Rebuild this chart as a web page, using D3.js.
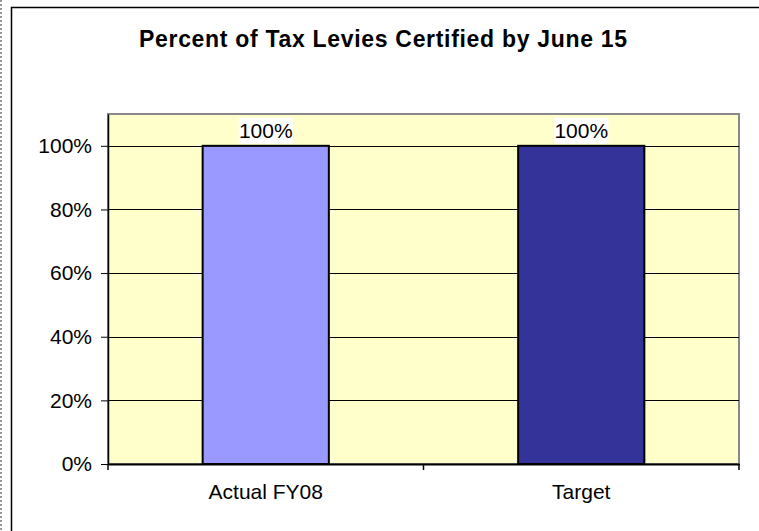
<!DOCTYPE html>
<html>
<head>
<meta charset="utf-8">
<script src="https://cdn.jsdelivr.net/npm/d3@7"></script>
<style>
  body { margin: 0; background: #fff; }
  svg { display: block; font-family: Arial, "Liberation Sans", sans-serif; }
</style>
</head>
<body>
<div id="chart"></div>
<script>
// chart values
var categories = ['Actual FY08', 'Target'];
var values = [1.0, 1.0];
var barColors = ['#9999FF', '#333399'];
var yTicks = [0, 0.2, 0.4, 0.6, 0.8, 1.0];
var titleText = 'Percent of Tax Levies Certified by June 15';

var W = 759, H = 531;
var margin = {top: 114, right: 20, bottom: 67, left: 108},
    width = 739 - margin.left,
    height = 464 - margin.top;

var svg = d3.select('#chart').append('svg')
    .attr('width', W)
    .attr('height', H);

// dotted page edge on the left
svg.append('line')
    .attr('x1', 1).attr('x2', 1)
    .attr('y1', 0).attr('y2', H)
    .attr('stroke', '#999')
    .attr('stroke-width', 2)
    .attr('stroke-dasharray', '2,2');

// chart area border (runs off the picture right and bottom)
svg.append('rect')
    .attr('x', 11.5).attr('y', 7.5)
    .attr('width', W + 10).attr('height', H + 10)
    .attr('fill', '#fff')
    .attr('stroke', '#000')
    .attr('stroke-width', 1.5);

svg.append('text')
    .attr('x', 383)
    .attr('y', 47)
    .attr('text-anchor', 'middle')
    .attr('textLength', 488)
    .attr('lengthAdjust', 'spacing')
    .style('font-size', '23px')
    .style('font-weight', 'bold')
    .text(titleText);

var g = svg.append('g')
    .attr('transform', 'translate(' + margin.left + ',' + margin.top + ')');

var x = d3.scaleBand()
    .domain(categories)
    .range([0, width])
    .paddingInner(0.6)
    .paddingOuter(0.3);

var y = d3.scaleLinear()
    .domain([0, 1.1])
    .range([height, 0]);

// plot background
g.append('rect')
    .attr('width', width)
    .attr('height', height)
    .attr('fill', '#FFFFCC')
    .attr('stroke', '#888')
    .attr('stroke-width', 2);

// gridlines
g.selectAll('.grid')
    .data(yTicks.slice(1))
    .enter().append('line')
    .attr('class', 'grid')
    .attr('x1', 0).attr('x2', width)
    .attr('y1', function(d) { return Math.round(y(d)) + 0.5; })
    .attr('y2', function(d) { return Math.round(y(d)) + 0.5; })
    .attr('stroke', '#000')
    .attr('stroke-width', 1);

// bars
g.selectAll('.bar')
    .data(values)
    .enter().append('rect')
    .attr('class', 'bar')
    .attr('x', function(d, i) { return x(categories[i]); })
    .attr('y', function(d) { return y(d); })
    .attr('width', x.bandwidth())
    .attr('height', function(d) { return height - y(d); })
    .attr('fill', function(d, i) { return barColors[i]; })
    .attr('stroke', '#000')
    .attr('stroke-width', 2);

// data labels with white boxes
var lab = g.selectAll('.lab')
    .data(values)
    .enter().append('g')
    .attr('class', 'lab')
    .attr('transform', function(d, i) {
        return 'translate(' + (x(categories[i]) + x.bandwidth() / 2) + ',' + (y(d) - 15) + ')';
    });
lab.append('rect')
    .attr('x', -27).attr('y', -13)
    .attr('width', 54).attr('height', 26)
    .attr('fill', '#fff');
lab.append('text')
    .attr('text-anchor', 'middle')
    .attr('dy', '0.36em')
    .style('font-size', '21px')
    .text(function(d) { return d3.format('.0%')(d); });

// y axis
var yAxis = g.append('g')
    .call(d3.axisLeft(y).tickValues(yTicks).tickFormat(d3.format('.0%'))
        .tickSize(7).tickSizeOuter(0).tickPadding(9));
yAxis.select('.domain').attr('stroke', '#000').attr('stroke-width', 1.5);
yAxis.selectAll('text').style('font-size', '21px').attr('fill', '#000');

// x axis
var xAxis = g.append('g')
    .attr('transform', 'translate(0,' + height + ')')
    .call(d3.axisBottom(x).tickSize(0).tickPadding(20));
xAxis.select('.domain').attr('stroke', '#000').attr('stroke-width', 2);
xAxis.selectAll('text').style('font-size', '21px').attr('fill', '#000');

// category boundary ticks
g.selectAll('.xtick')
    .data([0, width / 2, width])
    .enter().append('line')
    .attr('class', 'xtick')
    .attr('x1', function(d) { return d; })
    .attr('x2', function(d) { return d; })
    .attr('y1', height).attr('y2', height + 6)
    .attr('stroke', '#000')
    .attr('stroke-width', 1.5);
</script>
</body>
</html>
